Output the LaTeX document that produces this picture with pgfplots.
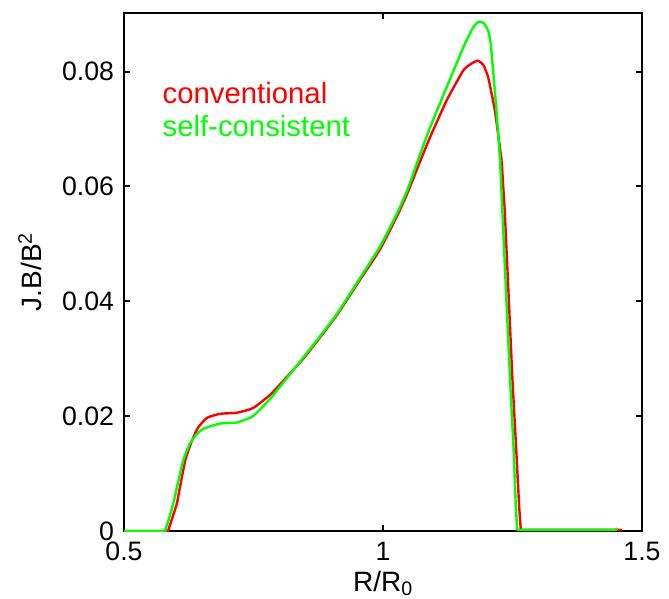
\documentclass[border=0pt]{standalone}
\usepackage{pgfplots}
\pgfplotsset{compat=1.18}
\usepackage{fontspec}
\setmainfont{Liberation Sans}
\definecolor{pgreen}{RGB}{0,255,0}
\definecolor{pred}{RGB}{255,0,0}
% conventional: head (flat + start of rise), body (smooth), tail (drop + flat)
\pgfplotstableread{
x y
0.500 0
0.585 0
0.593 0.0022
0.602 0.0047
}\convhead
\pgfplotstableread{
x y
0.602 0.0047
0.618 0.0122
0.631 0.0157
0.643 0.0180
0.660 0.0197
0.685 0.0204
0.718 0.0206
0.749 0.0214
0.782 0.0237
0.807 0.0261
0.846 0.0300
0.880 0.0339
0.911 0.0376
0.956 0.0438
0.994 0.0490
1.027 0.0548
1.048 0.0590
1.070 0.0640
1.091 0.0686
1.123 0.0750
1.155 0.0802
1.171 0.0814
1.183 0.0819
1.194 0.0811
1.203 0.0790
1.216 0.0732
1.229 0.0645
}\convbody
\pgfplotstableread{
x y
1.229 0.0645
1.235 0.0558
1.250 0.0261
1.257 0.0145
1.263 0.0040
1.266 0.0002
1.461 0.0002
}\convtail
\pgfplotstableread{
x y
0.500 0
0.579 0
0.587 0.0022
0.595 0.0047
}\selfhead
\pgfplotstableread{
x y
0.595 0.0047
0.614 0.0122
0.627 0.0152
0.641 0.0169
0.653 0.0178
0.685 0.0187
0.718 0.0189
0.749 0.0200
0.782 0.0230
0.807 0.0258
0.846 0.0302
0.880 0.0341
0.911 0.0378
0.956 0.0441
0.994 0.0495
1.027 0.0553
1.048 0.0596
1.070 0.0652
1.091 0.0703
1.123 0.0773
1.155 0.0842
1.174 0.0877
1.185 0.0887
1.195 0.0884
1.203 0.0871
1.208 0.0848
1.219 0.0732
1.226 0.0645
}\selfbody
\pgfplotstableread{
x y
1.226 0.0645
1.245 0.0268
1.252 0.0145
1.256 0.0050
1.259 0.0002
1.449 0.0002
1.452 0.0005
}\selftail
\begin{document}
\begin{tikzpicture}
\begin{axis}[
  name=ax,
  scale only axis,
  width=388.5pt, height=388.5pt,
  xmin=0.5, xmax=1.5, ymin=0, ymax=0.0902,
  xtick={0.5,1,1.5}, xticklabels={0.5,1,1.5},
  ytick={0,0.02,0.04,0.06,0.08}, yticklabels={0,0.02,0.04,0.06,0.08},
  tick align=inside,
  major tick length=4.5pt,
  axis line style={line width=1.5pt},
  tick style={line width=1.5pt, black},
  ticklabel style={font=\fontsize{20}{23}\selectfont},
  xticklabel style={yshift=-4.5pt},
  yticklabel style={xshift=-4pt},
  label style={font=\fontsize{21}{24}\selectfont},
  xlabel={R/R\textsubscript{0}},
  ylabel={J.B/B\textsuperscript{2}},
  xlabel style={yshift=-1pt},
  ylabel style={yshift=8pt},
  every axis plot/.append style={line width=1.8pt, line join=round},
]
\addplot[pred] table {\convhead};
\addplot[pred, smooth, tension=0.3] table {\convbody};
\addplot[pred] table {\convtail};
\addplot[pgreen] table {\selfhead};
\addplot[pgreen, smooth, tension=0.3] table {\selfbody};
\addplot[pgreen] table {\selftail};
\node[anchor=west, text=pred, font=\fontsize{22}{25}\selectfont, inner sep=0pt] at (axis cs:0.574,0.0763) {conventional};
\node[anchor=west, text=pgreen, font=\fontsize{22}{25}\selectfont, inner sep=0pt] at (axis cs:0.574,0.0706) {self-consistent};
\end{axis}
\path (ax.south west) ++(-93pt,-50.25pt) coordinate (bl);
\path (ax.north east) ++(20.25pt,9.75pt) coordinate (tr);
\pgfresetboundingbox
\path (bl) rectangle (tr);
\end{tikzpicture}
\end{document}
